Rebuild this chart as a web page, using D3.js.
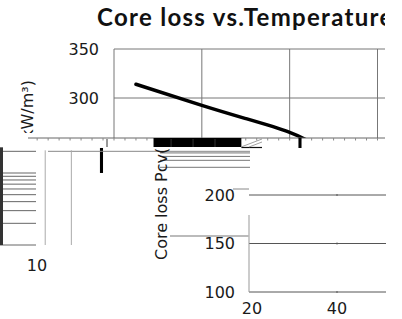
<!DOCTYPE html>
<html>
<head>
<meta charset="utf-8">
<script src="https://cdn.jsdelivr.net/npm/d3@7"></script>
<style>
  body { margin: 0; background: #fff; }
  svg { display: block; }
  text { font-family: "DejaVu Sans", sans-serif; fill: #1a1a1a; }
</style>
</head>
<body>
<div id="chart"></div>
<script>
// ---------- data ----------
var titleText = "Core loss vs.Temperature";
var axisLabel = "Core loss Pcv(kW/m³)";

// upper plot: core loss curve
var tempC = [25, 40, 50, 60, 65];
var lossKW = [314, 292.5, 279, 265, 254];
var topXTicks = [20, 40, 60, 80];
var topYTicks = [300, 350];

// lower right plot fragment
var lowYTicks = [100, 150, 200];
var lowXTicks = [20, 40];

// left log-grid fragment
var logRows = [1, 2, 3, 4, 5, 6, 7, 8, 9, 10, 20];
var logCols = [13, 30];
var logXLabels = [10];
var midRows = [12, 15, 17, 19];

// dark blocks, in upper plot units (temperature / loss)
var blockT0 = [29, 62, 16.8];
var blockT1 = [49, 62.7, 17.5];
var blockP0 = [259.2, 259.2, 249];
var blockP1 = [250, 249, 223.5];

// ---------- layout ----------
var width = 402, height = 319;
var seam = 138;

var svg = d3.select("#chart").append("svg")
    .attr("width", width)
    .attr("height", height);

var defs = svg.append("defs");
defs.append("clipPath").attr("id", "clipTop")
    .append("rect").attr("x", 0).attr("y", 0).attr("width", 385).attr("height", seam);
defs.append("clipPath").attr("id", "clipLabel")
    .append("rect").attr("x", 0).attr("y", 0).attr("width", 100).attr("height", 133);
defs.append("clipPath").attr("id", "clipLow")
    .append("rect").attr("x", 0).attr("y", 149).attr("width", width).attr("height", height - 149);

// scales
var xTop = d3.scaleLinear().domain([20, 80]).range([114, 377.5]);
var yTop = d3.scaleLinear().domain([250, 350]).range([147, 49]);

var xLow = d3.scaleLinear().domain([20, 40]).range([252, 337]);
var yLow = d3.scaleLinear().domain([100, 200]).range([292, 195]);

var xLog = d3.scaleLog().domain([10, 100]).range([37, 109]);
var yLog = d3.scaleLog().domain([1, 10]).range([245, 173]);

// ---------- upper plot ----------
var gTop = svg.append("g").attr("clip-path", "url(#clipTop)");

gTop.append("text")
    .attr("x", 97)
    .attr("y", 26)
    .text(titleText)
    .style("font-family", "Lato, sans-serif")
    .style("font-weight", "bold")
    .style("font-size", "24px")
    .style("letter-spacing", "1.3px")
    .style("fill", "#111");

gTop.selectAll(".vgrid")
    .data(topXTicks)
    .enter().append("line")
    .attr("x1", function (d) { return xTop(d); })
    .attr("x2", function (d) { return xTop(d); })
    .attr("y1", yTop(350))
    .attr("y2", seam)
    .attr("stroke", "#777")
    .attr("stroke-width", 1);

gTop.selectAll(".hgrid")
    .data(topYTicks)
    .enter().append("line")
    .attr("x1", xTop(20))
    .attr("x2", width)
    .attr("y1", function (d) { return yTop(d); })
    .attr("y2", function (d) { return yTop(d); })
    .attr("stroke", "#777")
    .attr("stroke-width", 1);

gTop.selectAll(".ylab")
    .data(topYTicks)
    .enter().append("text")
    .attr("x", 99)
    .attr("y", function (d) { return yTop(d); })
    .attr("dy", "0.36em")
    .attr("text-anchor", "end")
    .style("font-size", "16px")
    .text(function (d) { return d; });

var curve = d3.line()
    .x(function (d, i) { return xTop(tempC[i]); })
    .y(function (d) { return yTop(d); })
    .curve(d3.curveNatural);

gTop.append("path")
    .datum(lossKW)
    .attr("d", curve)
    .attr("fill", "none")
    .attr("stroke", "#000")
    .attr("stroke-width", 3.5)
    .attr("stroke-linecap", "round");

svg.append("g")
    .attr("clip-path", "url(#clipLabel)")
    .append("text")
    .attr("transform", "translate(33,80) rotate(-90)")
    .attr("text-anchor", "end")
    .style("font-size", "16px")
    .text(axisLabel);

// ---------- seam strip ----------
svg.append("line")
    .attr("x1", 28).attr("x2", 385)
    .attr("y1", seam).attr("y2", seam)
    .attr("stroke", "#666");

svg.selectAll(".minor")
    .data(d3.range(2.5, 80.1, 2.5).filter(function (d) { return xTop(d) > 30; }))
    .enter().append("line")
    .attr("x1", function (d) { return xTop(d); })
    .attr("x2", function (d) { return xTop(d); })
    .attr("y1", seam)
    .attr("y2", seam + 2.5)
    .attr("stroke", "#888");

svg.selectAll(".block")
    .data(blockT0)
    .enter().append("rect")
    .attr("x", function (d) { return xTop(d); })
    .attr("width", function (d, i) { return xTop(blockT1[i]) - xTop(d); })
    .attr("y", function (d, i) { return Math.max(seam, yTop(blockP0[i])); })
    .attr("height", function (d, i) { return yTop(blockP1[i]) - Math.max(seam, yTop(blockP0[i])); })
    .attr("fill", "#000");

// faint lines inside the big block
svg.selectAll(".blockgrid")
    .data([33, 38, 43])
    .enter().append("line")
    .attr("x1", function (d) { return xTop(d); })
    .attr("x2", function (d) { return xTop(d); })
    .attr("y1", seam + 1)
    .attr("y2", yTop(250))
    .attr("stroke", "#555")
    .attr("stroke-width", 0.6);

svg.append("line")
    .attr("x1", 107).attr("x2", 107)
    .attr("y1", seam + 1).attr("y2", 147)
    .attr("stroke", "#333");

svg.append("line")
    .attr("x1", xTop(49)).attr("x2", 262)
    .attr("y1", 147.5).attr("y2", 147.5)
    .attr("stroke", "#111").attr("stroke-width", 1.2);

svg.selectAll(".diag")
    .data([[241, 147, 262, 139], [249, 147, 262, 142]])
    .enter().append("line")
    .attr("x1", function (d) { return d[0]; })
    .attr("y1", function (d) { return d[1]; })
    .attr("x2", function (d) { return d[2]; })
    .attr("y2", function (d) { return d[3]; })
    .attr("stroke", "#888").attr("stroke-width", 0.8);

// ---------- left log fragment ----------
svg.selectAll(".logrow")
    .data(logRows)
    .enter().append("line")
    .attr("x1", 0)
    .attr("x2", xLog(10) - 1)
    .attr("y1", function (d) { return yLog(d); })
    .attr("y2", function (d) { return yLog(d); })
    .attr("stroke", "#666")
    .attr("stroke-width", 1);

svg.append("line")
    .attr("x1", 48).attr("x2", 250)
    .attr("y1", yLog(20)).attr("y2", yLog(20))
    .attr("stroke", "#888");

svg.selectAll(".midrow")
    .data(midRows)
    .enter().append("line")
    .attr("x1", 160).attr("x2", 250)
    .attr("y1", function (d) { return yLog(d); })
    .attr("y2", function (d) { return yLog(d); })
    .attr("stroke", "#777");

svg.append("rect")
    .attr("x", 0).attr("width", 3)
    .attr("y", yLog(20) - 4)
    .attr("height", yLog(1) - yLog(20) + 4)
    .attr("fill", "#333");

svg.selectAll(".logcol")
    .data(logCols)
    .enter().append("line")
    .attr("x1", function (d) { return xLog(d); })
    .attr("x2", function (d) { return xLog(d); })
    .attr("y1", yLog(20) - 1)
    .attr("y2", yLog(1))
    .attr("stroke", "#aaa");

svg.selectAll(".logxlab")
    .data(logXLabels)
    .enter().append("text")
    .attr("x", function (d) { return xLog(d); })
    .attr("y", 265)
    .attr("dy", "0.36em")
    .attr("text-anchor", "middle")
    .style("font-size", "16px")
    .text(function (d) { return d; });

// ---------- lower right plot ----------
svg.selectAll(".lowgrid")
    .data(lowYTicks)
    .enter().append("line")
    .attr("x1", 249).attr("x2", 386)
    .attr("y1", function (d) { return yLow(d); })
    .attr("y2", function (d) { return yLow(d); })
    .attr("stroke", "#555");

svg.selectAll(".lowtick")
    .data(lowYTicks)
    .enter().append("line")
    .attr("x1", xLow(40)).attr("x2", xLow(40))
    .attr("y1", function (d) { return yLow(d) - 1; })
    .attr("y2", function (d) { return yLow(d) + 1; })
    .attr("stroke", "#555");

svg.append("line")
    .attr("x1", 249).attr("x2", 249)
    .attr("y1", 215).attr("y2", yLow(100))
    .attr("stroke", "#999");

svg.append("line")
    .attr("x1", 233).attr("x2", 249)
    .attr("y1", 189).attr("y2", 189)
    .attr("stroke", "#888");

svg.append("line")
    .attr("x1", 170).attr("x2", 249)
    .attr("y1", 236).attr("y2", 236)
    .attr("stroke", "#bbb").attr("stroke-width", 2);

svg.selectAll(".lowylab")
    .data(lowYTicks)
    .enter().append("text")
    .attr("x", 235)
    .attr("y", function (d) { return yLow(d); })
    .attr("dy", "0.36em")
    .attr("text-anchor", "end")
    .style("font-size", "16px")
    .text(function (d) { return d; });

svg.selectAll(".lowxlab")
    .data(lowXTicks)
    .enter().append("text")
    .attr("x", function (d) { return xLow(d); })
    .attr("y", 308)
    .attr("dy", "0.36em")
    .attr("text-anchor", "middle")
    .style("font-size", "16px")
    .text(function (d) { return d; });

svg.append("g")
    .attr("clip-path", "url(#clipLow)")
    .append("text")
    .attr("transform", "translate(167,260) rotate(-90)")
    .style("font-size", "16px")
    .text(axisLabel);
</script>
</body>
</html>
